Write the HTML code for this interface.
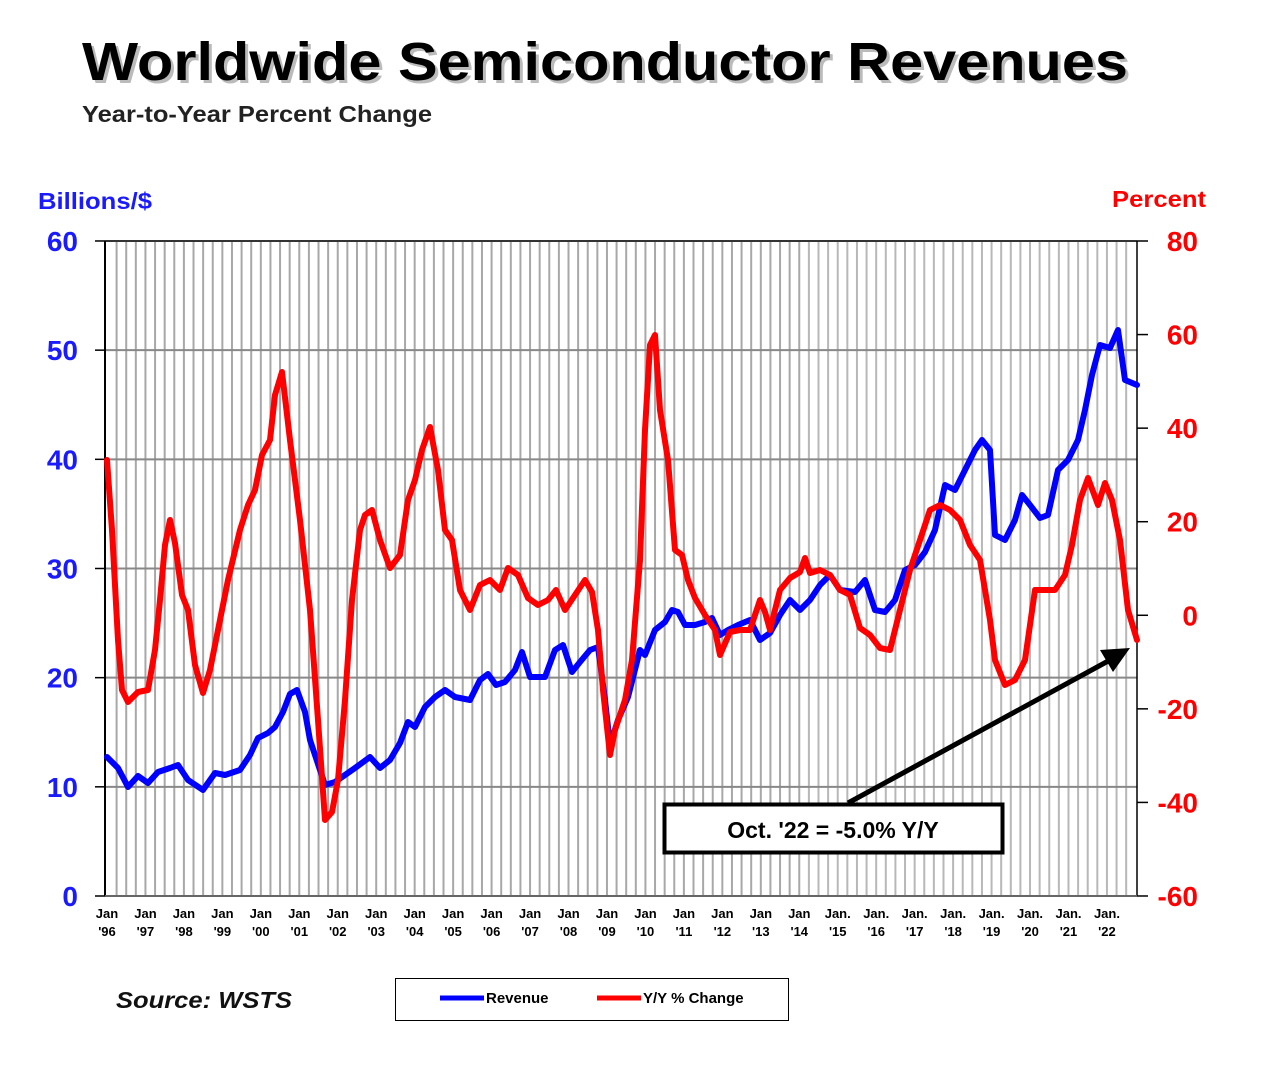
<!DOCTYPE html>
<html><head><meta charset="utf-8"><style>
body{margin:0;background:#fff;width:1271px;height:1080px;overflow:hidden;font-family:"Liberation Sans",Arial,sans-serif}
</style></head><body>
<svg id="s" width="1271" height="1080" xmlns="http://www.w3.org/2000/svg" font-family="Liberation Sans, Arial, sans-serif">
<text x="82" y="80" font-size="54" font-weight="bold" fill="#bbb" transform="translate(3,3)" textLength="1046" lengthAdjust="spacingAndGlyphs">Worldwide Semiconductor Revenues</text>
<text x="82" y="80" font-size="54" font-weight="bold" fill="#000" textLength="1046" lengthAdjust="spacingAndGlyphs">Worldwide Semiconductor Revenues</text>
<text x="82" y="122" font-size="23" font-weight="bold" fill="#222" textLength="350" lengthAdjust="spacingAndGlyphs">Year-to-Year Percent Change</text>
<text x="38" y="209" font-size="23" font-weight="bold" fill="#1a1aff" textLength="114" lengthAdjust="spacingAndGlyphs">Billions/$</text>
<text x="1112" y="207" font-size="23" font-weight="bold" fill="#f00" textLength="94" lengthAdjust="spacingAndGlyphs">Percent</text>
<g id="grid"></g>
<g id="lab"></g>
<polyline id="blue" fill="none" stroke="#0000ff" stroke-width="6" stroke-linejoin="round" stroke-linecap="round"/>
<polyline id="red" fill="none" stroke="#ff0000" stroke-width="6" stroke-linejoin="round" stroke-linecap="round"/>
<line x1="848" y1="803" x2="1110" y2="660" stroke="#000" stroke-width="5"/>
<polygon points="1130,648 1100,650 1113,672" fill="#000"/>
<rect x="664.5" y="804.5" width="338" height="48" fill="#fff" stroke="#000" stroke-width="4"/>
<text x="833" y="838" font-size="23" font-weight="bold" text-anchor="middle">Oct. '22 = -5.0% Y/Y</text>
<text x="116" y="1008" font-size="23" font-weight="bold" font-style="italic" fill="#111" textLength="176" lengthAdjust="spacingAndGlyphs">Source: WSTS</text>
<rect x="395.5" y="978.5" width="393" height="42" fill="#fff" stroke="#000" stroke-width="1"/>
<line x1="440" y1="998" x2="484" y2="998" stroke="#0000ff" stroke-width="5"/>
<text x="486" y="1003" font-size="15" font-weight="bold">Revenue</text>
<line x1="597" y1="998" x2="641" y2="998" stroke="#ff0000" stroke-width="5"/>
<text x="643" y="1003" font-size="15" font-weight="bold">Y/Y % Change</text>
</svg>
<script>
var ns="http://www.w3.org/2000/svg";
function el(p,t,a,tx){var e=document.createElementNS(ns,t);for(var k in a)e.setAttribute(k,a[k]);if(tx!==undefined)e.textContent=tx;document.getElementById(p).appendChild(e);return e;}
var L=105,R=1137,T=241,B=896;
for(var x=107+9.6;x<R-2;x+=9.615){el("grid","line",{x1:x,x2:x,y1:T,y2:B,stroke:x>800?"#b8b8b8":"#a8a8a8","stroke-width":2});}
for(var v=0;v<=60;v+=10){var y=B-v*10.917;el("grid","line",{x1:L,x2:R,y1:y,y2:y,stroke:v==60?"#333":"#888","stroke-width":2});
el("lab","line",{x1:95,x2:L,y1:y,y2:y,stroke:"#000","stroke-width":1.5});
el("lab","text",{x:78,y:y+10,"font-size":28,"font-weight":"bold",fill:"#1a1aff","text-anchor":"end"},v);}
for(var p=80,i=0;p>=-60;p-=20,i++){var y=T+i*93.57;el("lab","line",{x1:R,x2:1148,y1:y,y2:y,stroke:"#000","stroke-width":1.5});
el("lab","text",{x:1198,y:y+10,"font-size":28,"font-weight":"bold",fill:"#f00","text-anchor":"end"},p);}
el("grid","line",{x1:L,x2:L,y1:T,y2:B,stroke:"#000","stroke-width":2});
el("grid","line",{x1:R,x2:R,y1:T,y2:B,stroke:"#000","stroke-width":1.5});
el("grid","line",{x1:L,x2:R,y1:B,y2:B,stroke:"#666","stroke-width":2});
for(var i=0;i<27;i++){var x=107+i*38.46;var yr=(96+i)%100;var ys=(yr<10?"0":"")+yr;
el("lab","text",{x:x,y:918,"font-size":13,"font-weight":"bold","text-anchor":"middle"},i>=19?"Jan.":"Jan");
el("lab","text",{x:x,y:936,"font-size":13,"font-weight":"bold","text-anchor":"middle"},"'"+ys);}
document.getElementById("blue").setAttribute("points","107,757 118,768 128,787 138,776 148,783 158,772 170,768 178,765 188,780 203,790 215,773 225,775 240,770 250,755 258,738 268,733 275,727 283,712 290,694 297,690 305,712 310,740 320,770 325,785 335,782 345,775 355,768 370,757 380,768 390,760 400,743 408,722 415,727 425,707 435,697 445,690 455,697 470,700 480,680 488,674 496,685 505,682 515,670 522,652 530,677 545,677 555,650 563,645 572,672 580,662 590,650 598,647 605,700 610,745 618,720 628,697 640,650 645,655 655,630 665,622 672,610 678,612 685,625 695,625 705,622 712,618 720,635 728,630 738,625 750,620 760,640 770,633 780,615 790,600 800,610 810,600 820,585 830,575 840,590 855,592 865,580 875,610 885,612 895,600 905,570 915,565 925,552 935,530 945,485 955,490 965,470 975,450 982,440 990,450 995,535 1005,540 1015,520 1022,495 1030,505 1040,518 1048,515 1058,470 1068,460 1078,440 1085,410 1092,375 1100,345 1110,348 1118,330 1125,380 1137,385");
document.getElementById("red").setAttribute("points","107,460 112,530 118,640 122,690 128,702 138,692 148,690 155,650 160,600 165,545 170,520 175,543 182,595 188,610 195,665 203,693 210,670 218,630 228,580 240,530 248,505 255,490 262,455 270,440 275,395 282,372 290,440 300,520 310,610 318,720 325,820 332,812 338,780 345,700 352,600 360,530 365,515 372,510 380,540 390,568 400,555 408,500 415,480 422,450 430,427 438,470 445,530 452,540 460,590 470,610 480,585 490,580 500,590 508,568 518,575 528,598 538,605 548,600 556,590 565,610 575,595 585,580 592,592 598,630 603,690 610,755 615,730 625,700 632,660 640,560 645,430 650,345 655,335 660,410 668,460 675,550 682,555 688,580 695,598 705,615 715,630 720,655 730,632 740,630 750,630 760,600 765,612 770,630 780,590 790,578 800,572 805,558 810,573 820,570 830,575 840,590 850,595 860,628 870,635 880,648 890,650 900,610 910,570 920,540 930,510 940,505 950,510 960,520 970,545 980,560 990,620 995,660 1005,685 1015,680 1025,660 1035,590 1045,590 1055,590 1065,575 1072,545 1080,500 1088,478 1098,505 1105,483 1112,500 1120,540 1128,610 1137,640");
</script>
</body></html>
